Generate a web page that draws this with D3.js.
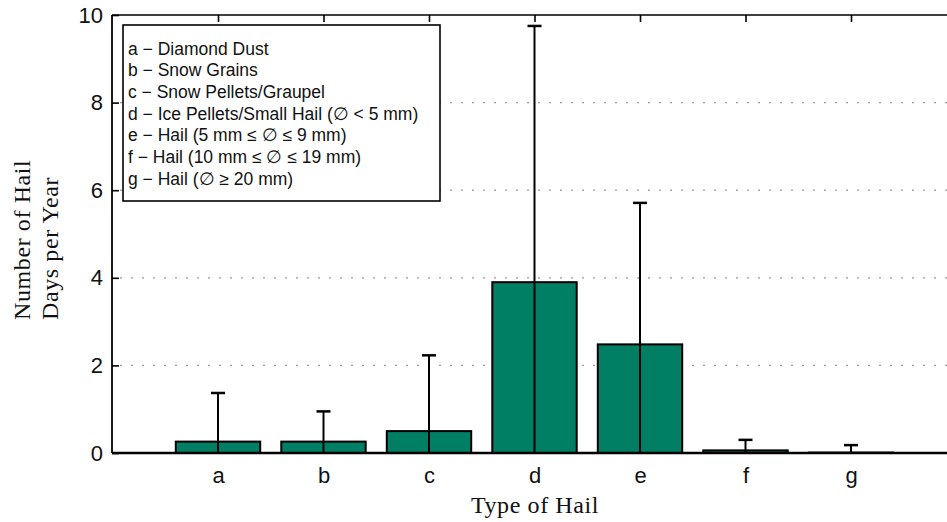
<!DOCTYPE html>
<html>
<head>
<meta charset="utf-8">
<script src="https://cdn.jsdelivr.net/npm/d3@7/dist/d3.min.js"></script>
<style>
  html, body { margin: 0; padding: 0; background: #fff; }
  svg { display: block; }
</style>
</head>
<body>
<svg id="chart" width="947" height="522"></svg>
<script>
// Hail types and mean number of hail days per year, with upper error bars
const categories = ["a", "b", "c", "d", "e", "f", "g"];
const meanDays = [0.26, 0.26, 0.50, 3.90, 2.48, 0.06, 0.01];
const upperDays = [1.37, 0.95, 2.23, 9.75, 5.71, 0.30, 0.18];
const yTicks = [0, 2, 4, 6, 8, 10];
const gridTicks = [2, 4, 6, 8];
const legendLines = [
  "a \u2212 Diamond Dust",
  "b \u2212 Snow Grains",
  "c \u2212 Snow Pellets/Graupel",
  "d \u2212 Ice Pellets/Small Hail (\u2205 < 5 mm)",
  "e \u2212 Hail (5 mm \u2264 \u2205 \u2264 9 mm)",
  "f \u2212 Hail (10 mm \u2264 \u2205 \u2264 19 mm)",
  "g \u2212 Hail (\u2205 \u2265 20 mm)"
];

const svg = d3.select("#chart");
const W = 947;
const mLeft = 112, mTop = 15, mBottom = 453;

const x = d3.scalePoint().domain(categories).range([218, 851]);
const step = x.step();
const y = d3.scaleLinear().domain([0, 10]).range([mBottom, mTop]);
const barW = step * 0.8;

const sans = "'Liberation Sans', Arial, sans-serif";
const serif = "'Liberation Serif', 'Times New Roman', serif";

// dotted grid
svg.append("g").selectAll("line").data(gridTicks).join("line")
  .attr("x1", mLeft + 8).attr("x2", W)
  .attr("y1", d => y(d)).attr("y2", d => y(d))
  .attr("stroke", "#9a9a9a").attr("stroke-width", 1.2)
  .attr("stroke-dasharray", "2,9");

// bars
svg.append("g").selectAll("rect").data(categories).join("rect")
  .attr("x", d => x(d) - barW / 2)
  .attr("width", barW)
  .attr("y", (d, i) => y(meanDays[i]))
  .attr("height", (d, i) => y(0) - y(meanDays[i]))
  .attr("fill", "#007f65")
  .attr("stroke", "#000").attr("stroke-width", 2);

// error bars
const eb = svg.append("g").attr("stroke", "#000");
eb.selectAll("line.v").data(categories).join("line").attr("class", "v")
  .attr("x1", d => x(d)).attr("x2", d => x(d))
  .attr("y1", y(0)).attr("y2", (d, i) => y(upperDays[i]))
  .attr("stroke-width", 2);
eb.selectAll("line.cap").data(categories).join("line").attr("class", "cap")
  .attr("x1", d => x(d) - 7).attr("x2", d => x(d) + 7)
  .attr("y1", (d, i) => y(upperDays[i])).attr("y2", (d, i) => y(upperDays[i]))
  .attr("stroke-width", 2.5);

// legend
const lg = svg.append("g");
lg.append("rect").attr("x", 123).attr("y", 25).attr("width", 317).attr("height", 176)
  .attr("fill", "#fff").attr("stroke", "#000").attr("stroke-width", 1.6);
lg.selectAll("text").data(legendLines).join("text")
  .attr("x", 128)
  .attr("y", (d, i) => 54.5 + i * 21.7)
  .attr("font-family", sans).attr("font-size", 17.5).attr("fill", "#111")
  .text(d => d);

// frame
const frame = svg.append("g").attr("stroke", "#000").attr("fill", "none");
frame.append("line").attr("x1", mLeft).attr("x2", W).attr("y1", mTop).attr("y2", mTop).attr("stroke-width", 1.6);
frame.append("line").attr("x1", mLeft).attr("x2", mLeft).attr("y1", mTop).attr("y2", mBottom).attr("stroke-width", 1.8);
frame.append("line").attr("x1", mLeft).attr("x2", W).attr("y1", mBottom).attr("y2", mBottom).attr("stroke-width", 2.5);

// y axis (ticks inward)
const yAxis = d3.axisLeft(y).tickValues(yTicks).tickSize(-7).tickPadding(9).tickFormat(d3.format("d"));
const gy = svg.append("g").attr("transform", `translate(${mLeft},0)`).call(yAxis);
gy.select(".domain").remove();
gy.selectAll(".tick line").attr("stroke", "#000").attr("stroke-width", 1.6);
gy.selectAll(".tick text").attr("font-family", sans).attr("font-size", 22).attr("fill", "#111");

// top ticks (inward)
const topAxis = d3.axisTop(x).tickSize(-7).tickFormat("");
const gt = svg.append("g").attr("transform", `translate(0,${mTop})`).call(topAxis);
gt.select(".domain").remove();
gt.selectAll(".tick line").attr("stroke", "#000").attr("stroke-width", 1.6);

// bottom category labels
const bottomAxis = d3.axisBottom(x).tickSize(0).tickPadding(14);
const gb = svg.append("g").attr("transform", `translate(0,${mBottom})`).call(bottomAxis);
gb.select(".domain").remove();
gb.selectAll(".tick text").attr("font-family", sans).attr("font-size", 22).attr("fill", "#111");

// axis titles
svg.append("text").attr("x", 535).attr("y", 513).attr("text-anchor", "middle")
  .attr("font-family", serif).attr("font-size", 24).attr("fill", "#111")
  .attr("letter-spacing", 0.6)
  .text("Type of Hail");
const yt = svg.append("g").attr("font-family", serif).attr("font-size", 24).attr("fill", "#111")
  .attr("letter-spacing", 0.6);
yt.append("text").attr("transform", "translate(30,320) rotate(-90)").text("Number of Hail");
yt.append("text").attr("transform", "translate(58,320) rotate(-90)").text("Days per Year");
</script>
</body>
</html>
